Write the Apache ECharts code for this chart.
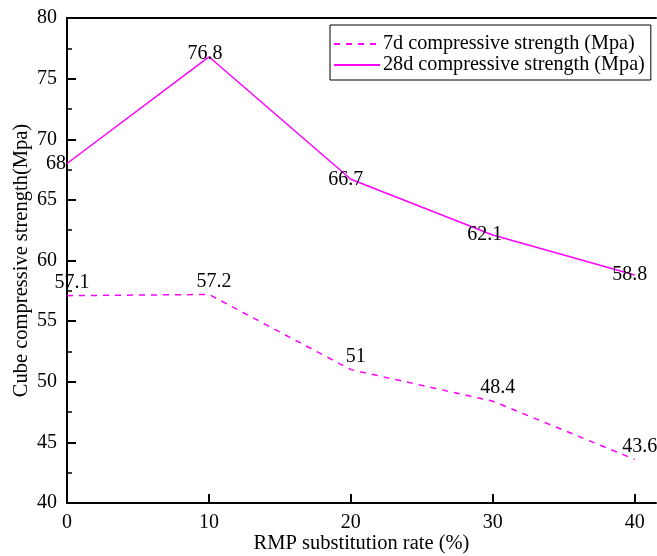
<!DOCTYPE html>
<html>
<head>
<meta charset="utf-8">
<script src="https://cdn.jsdelivr.net/npm/echarts@6/dist/echarts.min.js"></script>
<style>
html,body{margin:0;padding:0;background:#fff;}
#chart{width:657px;height:556px;}
</style>
</head>
<body>
<div id="chart"></div>
<script>
const rates = [0, 10, 20, 30, 40];
const strength7d = [57.1, 57.2, 51, 48.4, 43.6];
const strength28d = [68, 76.8, 66.7, 62.1, 58.8];
const seriesNames = ['7d compressive strength (Mpa)', '28d compressive strength (Mpa)'];
const xTitle = 'RMP substitution rate (%)';
const yTitle = 'Cube compressive strength(Mpa)';

const FONT = '"Liberation Serif", "Times New Roman", serif';
const MAG = '#FF00FF';
const CLEAR = 'rgba(0,0,0,0)';

const chart = echarts.init(document.getElementById('chart'), null, {renderer: 'canvas'});

const pts7 = rates.map((x, i) => [x, strength7d[i]]);
const pts28 = rates.map((x, i) => {
  const d = {value: [x, strength28d[i]]};
  if (i === 0) d.label = {offset: [-11, 0]};
  if (i === 1) d.label = {offset: [-4, -3]};
  if (i === 3) d.label = {offset: [-8, 0]};
  return d;
});

chart.setOption({
  animation: false,
  backgroundColor: '#fff',
  textStyle: {fontFamily: FONT},
  grid: {left: 67, right: 1, top: 18, bottom: 53, containLabel: false, outerBoundsMode: 'none'},
  legend: {
    orient: 'vertical',
    left: 330,
    top: 25,
    padding: [9, 6, 5, 3],
    itemGap: 1,
    itemWidth: 46,
    itemHeight: 14,
    borderColor: '#000',
    borderWidth: 1,
    backgroundColor: '#fff',
    itemStyle: {opacity: 0},
    textStyle: {fontFamily: FONT, fontSize: 20.2, color: '#000', padding: [0, 0, 0, -2]},
    data: seriesNames
  },
  xAxis: [{
    type: 'value',
    min: 0,
    max: 41.5,
    interval: 10,
    name: xTitle,
    nameLocation: 'middle',
    nameGap: 30,
    nameMoveOverlap: false,
    nameTextStyle: {fontFamily: FONT, fontSize: 20.5, color: '#000'},
    axisLine: {show: true, lineStyle: {color: '#000', width: 2}},
    axisTick: {show: true, inside: true, length: 9, lineStyle: {color: '#000', width: 2}},
    axisLabel: {fontFamily: FONT, fontSize: 20, color: '#000', margin: 10, showMaxLabel: false},
    splitLine: {show: false}
  }, {
    type: 'value',
    position: 'top',
    min: 0,
    max: 41.5,
    axisLine: {show: true, onZero: false, lineStyle: {color: '#000', width: 2}},
    axisTick: {show: false},
    axisLabel: {show: false},
    splitLine: {show: false}
  }],
  yAxis: {
    type: 'value',
    min: 40,
    max: 80,
    interval: 5,
    name: yTitle,
    nameLocation: 'middle',
    nameGap: 35,
    nameMoveOverlap: false,
    nameTextStyle: {fontFamily: FONT, fontSize: 20.5, color: '#000'},
    axisLine: {show: true, lineStyle: {color: '#000', width: 2}},
    axisTick: {show: true, inside: true, length: 9, lineStyle: {color: '#000', width: 2}},
    minorTick: {show: true, splitNumber: 2, length: 5, lineStyle: {color: '#000', width: 1.5}},
    axisLabel: {fontFamily: FONT, fontSize: 20, color: '#000', margin: 10},
    splitLine: {show: false}
  },
  series: [{
    name: seriesNames[0],
    type: 'line',
    data: pts7,
    symbol: 'circle',
    symbolSize: 2,
    showSymbol: true,
    lineStyle: {color: MAG, width: 1.5, type: [6, 6]},
    itemStyle: {color: CLEAR, borderWidth: 0},
    label: {show: true, position: 'top', distance: 2, offset: [5, 0], fontFamily: FONT, fontSize: 20, color: '#000', formatter: p => String(p.value[1])}
  }, {
    name: seriesNames[1],
    type: 'line',
    data: pts28,
    symbol: 'circle',
    symbolSize: 2,
    showSymbol: true,
    lineStyle: {color: MAG, width: 1.5},
    itemStyle: {color: CLEAR, borderWidth: 0},
    label: {show: true, position: 'inside', offset: [-5, 0], fontFamily: FONT, fontSize: 20, color: '#000', formatter: p => String(p.value[1])}
  }]
});
</script>
</body>
</html>
